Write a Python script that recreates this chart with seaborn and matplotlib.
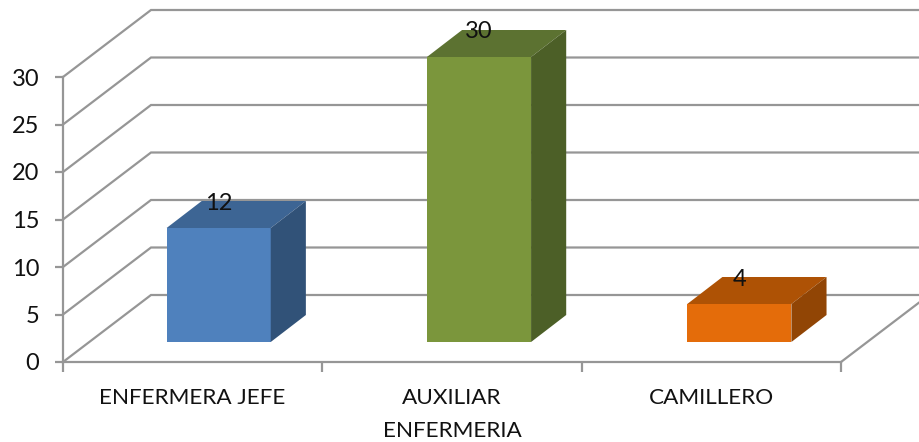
import matplotlib
matplotlib.use("Agg")
import matplotlib.pyplot as plt
import pandas as pd
import seaborn as sns

categories = ["ENFERMERA JEFE", "AUXILIAR\nENFERMERIA", "CAMILLERO"]
values = [12, 30, 4]
y_ticks = [0, 5, 10, 15, 20, 25, 30]

front_colors = ["#4F81BD", "#7B963C", "#E46C0A"]
top_colors = ["#3D6594", "#5C7231", "#AE5205"]
side_colors = ["#315278", "#4C5F27", "#914505"]
GRID = "#969696"

W, H = 919, 442
UNIT_X = 259.33  # px per category
UNIT_Y = 9.5     # px per value unit

sns.set_style("white")
plt.rcParams["font.family"] = ["Lato", "DejaVu Sans"]

fig = plt.figure(figsize=(W / 100, H / 100), dpi=100)
ax = fig.add_axes([63 / W, (H - 362) / H, 778 / W, 285 / H])
bar_ax = fig.add_axes([88.5 / W, (H - 342) / H, 781 / W, 285 / H])

# walls and floor, on the front plane of the chart
wall_dx, wall_dy = 88 / UNIT_X, 67 / UNIT_Y
for v in y_ticks:
    ax.plot([0, wall_dx, 3 + wall_dx], [v, v + wall_dy, v + wall_dy],
            color=GRID, lw=1.6, clip_on=False, solid_joinstyle="miter")
ax.plot([3, 3 + wall_dx], [0, wall_dy], color=GRID, lw=1.6, clip_on=False)

ax.set_xlim(0, 3)
ax.set_ylim(0, 30)
ax.set_yticks(y_ticks)
ax.set_xticks([0, 1, 2, 3])
ax.set_xticklabels([])
ax.set_xticks([0.5, 1.5, 2.5], minor=True)
ax.set_xticklabels(categories, minor=True, fontsize=16.2, color="#111111", linespacing=1.8)
ax.tick_params(axis="x", which="major", length=7, width=1.6, color=GRID)
ax.tick_params(axis="x", which="minor", length=0, pad=19)
ax.tick_params(axis="y", length=6, width=1.6, color=GRID, labelsize=17, labelcolor="#111111", pad=11)
ax.tick_params(left=True, bottom=True, which="major")
for label in ax.get_yticklabels():
    label.set_va("center_baseline")
sns.despine(ax=ax, top=True, right=True)
for side in ["left", "bottom"]:
    ax.spines[side].set_color(GRID)
    ax.spines[side].set_linewidth(1.6)

# the bars
df = pd.DataFrame({"category": categories, "value": values})
sns.barplot(data=df, x="category", y="value", hue="category", palette=front_colors,
            width=0.4, legend=False, saturation=1, edgecolor="none", linewidth=0, ax=bar_ax)
bar_ax.set_xlim(-0.5, 2.5)
bar_ax.set_ylim(0, 30)
bar_ax.axis("off")

# depth of each bar, top and side faces
bar_dx, bar_dy = 35 / UNIT_X, 27 / UNIT_Y
for patch, val, top_c, side_c in zip(bar_ax.patches, values, top_colors, side_colors):
    x0, x1 = patch.get_x(), patch.get_x() + patch.get_width()
    bar_ax.fill([x0, x1, x1 + bar_dx, x0 + bar_dx],
                [val, val, val + bar_dy, val + bar_dy], color=top_c, lw=0, clip_on=False)
    bar_ax.fill([x1, x1 + bar_dx, x1 + bar_dx, x1],
                [0, bar_dy, val + bar_dy, val], color=side_c, lw=0, clip_on=False)
    bar_ax.text((x0 + x1) / 2, val + bar_dy, str(val), ha="center", va="center_baseline",
                fontsize=17, color="#111111", clip_on=False)

fig.savefig("out.png", dpi=100, facecolor="white")
